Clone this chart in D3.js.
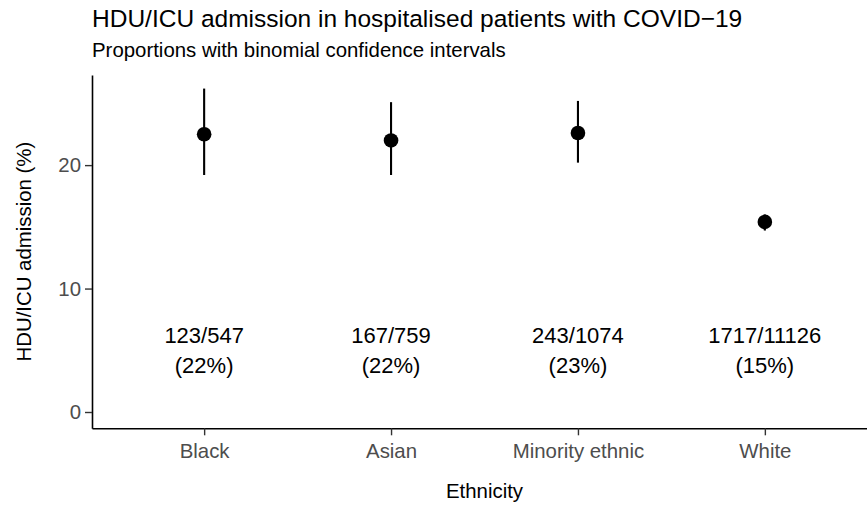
<!DOCTYPE html>
<html>
<head>
<meta charset="utf-8">
<script src="https://cdn.jsdelivr.net/npm/d3@7"></script>
<style>
  body { margin: 0; background: #fff; }
  svg { display: block; font-family: "Liberation Sans", Arial, Helvetica, sans-serif; }
</style>
</head>
<body>
<svg id="chart"></svg>
<script>
// data
const categories = ["Black", "Asian", "Minority ethnic", "White"]
const admitted = [123, 167, 243, 1717]
const totals = [547, 759, 1074, 11126]
const percent = [22.5, 22.0, 22.6, 15.4]
const lower = [19.2, 19.2, 20.2, 14.7]
const upper = [26.2, 25.1, 25.2, 16.0]
const yTicks = [0, 10, 20]
const labelY = 5

const chart = { width: 867, height: 505 }
const panel = { left: 92, right: 877, top: 75, bottom: 428.3 }

const svg = d3.select("#chart")
    .attr("width", chart.width)
    .attr("height", chart.height)

const scaleX = d3.scalePoint()
    .domain(categories)
    .range([panel.left, panel.right])
    .padding(0.6)

const scaleY = d3.scaleLinear()
    .domain([-1.32, 27.3])
    .range([panel.bottom, panel.top])

const rows = categories.map((c, i) => ({
    cat: c, n: admitted[i], total: totals[i], p: percent[i], lo: lower[i], hi: upper[i]
}))

// axes
const yAxis = svg.append("g")
    .attr("transform", "translate(" + panel.left + ",0)")
    .call(d3.axisLeft(scaleY).tickValues(yTicks).tickSize(7).tickPadding(4).tickSizeOuter(0))
yAxis.select(".domain").attr("stroke", "#000").attr("stroke-width", 1.6)
yAxis.selectAll(".tick line").attr("stroke", "#333").attr("stroke-width", 1.4)
yAxis.selectAll(".tick text")
    .attr("fill", "#4d4d4d")
    .style("font-size", "20.4px")

const xAxis = svg.append("g")
    .attr("transform", "translate(0," + panel.bottom + ")")
    .call(d3.axisBottom(scaleX).tickSize(7).tickPadding(8).tickSizeOuter(0))
xAxis.select(".domain").attr("stroke", "#000").attr("stroke-width", 1.6)
xAxis.selectAll(".tick line").attr("stroke", "#333").attr("stroke-width", 1.4)
xAxis.selectAll(".tick text")
    .attr("fill", "#4d4d4d")
    .style("font-size", "20.4px")

// error bars
svg.selectAll(".ci")
    .data(rows)
    .enter()
    .append("line")
    .attr("class", "ci")
    .attr("x1", d => scaleX(d.cat))
    .attr("x2", d => scaleX(d.cat))
    .attr("y1", d => scaleY(d.lo))
    .attr("y2", d => scaleY(d.hi))
    .attr("stroke", "#000")
    .attr("stroke-width", 2.1)

// points
svg.selectAll(".pt")
    .data(rows)
    .enter()
    .append("circle")
    .attr("class", "pt")
    .attr("cx", d => scaleX(d.cat))
    .attr("cy", d => scaleY(d.p))
    .attr("r", 7.3)
    .attr("fill", "#000")

// count labels
const lab = svg.selectAll(".lab")
    .data(rows)
    .enter()
    .append("text")
    .attr("class", "lab")
    .attr("text-anchor", "middle")
    .style("font-size", "22px")
    .attr("fill", "#000")
lab.append("tspan")
    .attr("x", d => scaleX(d.cat))
    .attr("y", scaleY(labelY) - 7.3)
    .text(d => d.n + "/" + d.total)
lab.append("tspan")
    .attr("x", d => scaleX(d.cat))
    .attr("y", scaleY(labelY) + 22.7)
    .text(d => "(" + Math.round(100 * d.n / d.total) + "%)")

// titles
svg.append("text")
    .attr("x", panel.left)
    .attr("y", 27)
    .style("font-size", "24.5px")
    .text("HDU/ICU admission in hospitalised patients with COVID\u221219")

svg.append("text")
    .attr("x", panel.left)
    .attr("y", 57)
    .style("font-size", "20.4px")
    .text("Proportions with binomial confidence intervals")

svg.append("text")
    .attr("x", (panel.left + panel.right) / 2)
    .attr("y", 498)
    .attr("text-anchor", "middle")
    .style("font-size", "20.4px")
    .text("Ethnicity")

svg.append("text")
    .attr("transform", "translate(31," + ((panel.top + panel.bottom) / 2) + ") rotate(-90)")
    .attr("text-anchor", "middle")
    .style("font-size", "20.4px")
    .text("HDU/ICU admission (%)")
</script>
</body>
</html>
